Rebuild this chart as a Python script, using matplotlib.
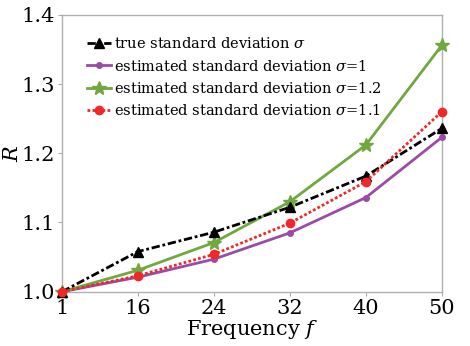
import matplotlib
matplotlib.use("Agg")
import matplotlib.pyplot as plt

plt.rcParams['font.family'] = ['DejaVu Serif']
plt.rcParams['mathtext.fontset'] = 'dejavuserif'

# data
freq_labels = ['1', '16', '24', '32', '40', '50']
r_true = [1.0, 1.058, 1.086, 1.122, 1.167, 1.236]
r_est_10 = [1.0, 1.021, 1.047, 1.085, 1.136, 1.223]
r_est_12 = [1.0, 1.031, 1.071, 1.130, 1.212, 1.356]
r_est_11 = [1.0, 1.023, 1.054, 1.099, 1.159, 1.260]

x = list(range(len(freq_labels)))

fig = plt.figure(figsize=(4.7, 3.46), dpi=100)
ax = fig.add_axes([0.132, 0.157, 0.808, 0.8])

ax.plot(x, r_true, color='black', linestyle=(0, (3, 1, 1, 1)), linewidth=2, marker='^',
        markersize=7, label=r'true standard deviation $\sigma$', clip_on=False, zorder=4)
ax.plot(x, r_est_10, color='#9B4BA5', linestyle='-', linewidth=2, marker='o',
        markersize=4, label=r'estimated standard deviation $\sigma$=1', clip_on=False, zorder=3)
ax.plot(x, r_est_12, color='#6FA83F', linestyle='-', linewidth=2, marker='*',
        markersize=10, label=r'estimated standard deviation $\sigma$=1.2', clip_on=False, zorder=3)
ax.plot(x, r_est_11, color='#F02828', linestyle=(0, (1, 0.8)), linewidth=2, marker='o',
        markersize=6, label=r'estimated standard deviation $\sigma$=1.1', clip_on=False, zorder=5)

ax.set_xlim(0, 5)
ax.set_ylim(1.0, 1.4)
ax.set_xticks(x)
ax.set_xticklabels(freq_labels)
ax.set_yticks([1.0, 1.1, 1.2, 1.3, 1.4])
ax.tick_params(labelsize=15, color='#aaaaaa', length=3, width=0.8, pad=2)
for s in ax.spines.values():
    s.set_color('#b0b0b0')
    s.set_linewidth(1)

ax.set_xlabel(r'Frequency $f$', fontsize=15, labelpad=0)
ax.set_ylabel(r'$R$', fontsize=15, labelpad=0)

ax.legend(loc='upper left', frameon=False, fontsize=10.5, handlelength=1.7,
          handletextpad=0.2, labelspacing=0.5, borderaxespad=0.5,
          bbox_to_anchor=(0.03, 0.97))

fig.savefig('out.png', dpi=100)
